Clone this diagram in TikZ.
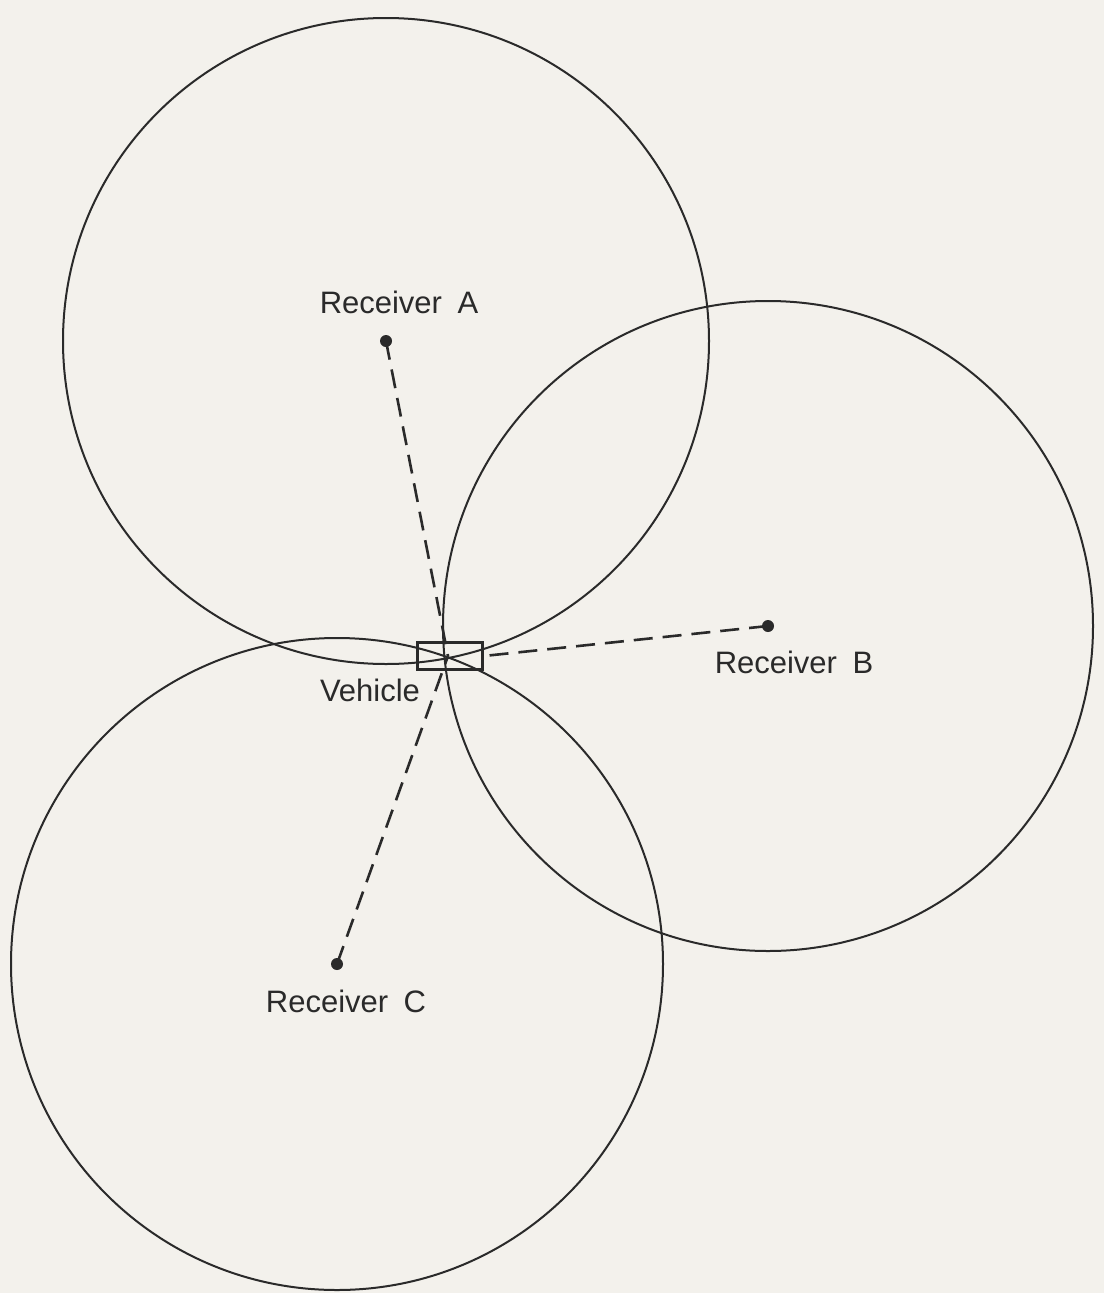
\documentclass[tikz,border=0pt]{standalone}
\usepackage{fontspec}
\setmainfont{Liberation Sans}
\definecolor{paper}{HTML}{F3F1EC}
\definecolor{ink}{HTML}{2A2A2A}
\usetikzlibrary{positioning}
\tikzset{
  rangering/.style={draw=ink, line width=2pt},
  ray/.style={draw=ink, line width=2.6pt, dash pattern=on 19pt off 10pt},
  rx/.style={fill=ink},
  lbl/.style={font=\fontsize{31}{36}\selectfont, color=ink, inner sep=0pt},
  vehbox/.style={draw=ink, line width=2.4pt, minimum width=65pt, minimum height=27pt, inner sep=0pt},
}
\begin{document}
\begin{tikzpicture}[x=1pt,y=-1pt]
\fill[paper] (0,0) rectangle (1104,1293);
\useasboundingbox (0,0) rectangle (1104,1293);
\coordinate (recA) at (386,341);
\coordinate (recB) at (768,626);
\coordinate (recC) at (337,964);
\node[vehbox] (veh) at (450,656) {};
\coordinate (vc) at (448,656);
\draw[rangering] (recA) circle (323pt);
\draw[rangering] (recB) circle (325pt);
\draw[rangering] (recC) circle (326pt);
\draw[ray] (recA)--(vc);\draw[ray] (recB)--(veh.east);\draw[ray] (recC)--(vc);
\fill[rx] (recA) circle (6pt);\fill[rx] (recB) circle (6pt);\fill[rx] (recC) circle (6pt);
\node[lbl] (labA) at (399,302) {Receiver\hspace{0.5em}A};
\node[lbl] (labB) at (794,662) {Receiver\hspace{0.5em}B};
\node[lbl] (labC) at (346,1001) {Receiver\hspace{0.5em}C};
\node[lbl] (labV) at (370,690) {Vehicle};
\end{tikzpicture}
\end{document}
